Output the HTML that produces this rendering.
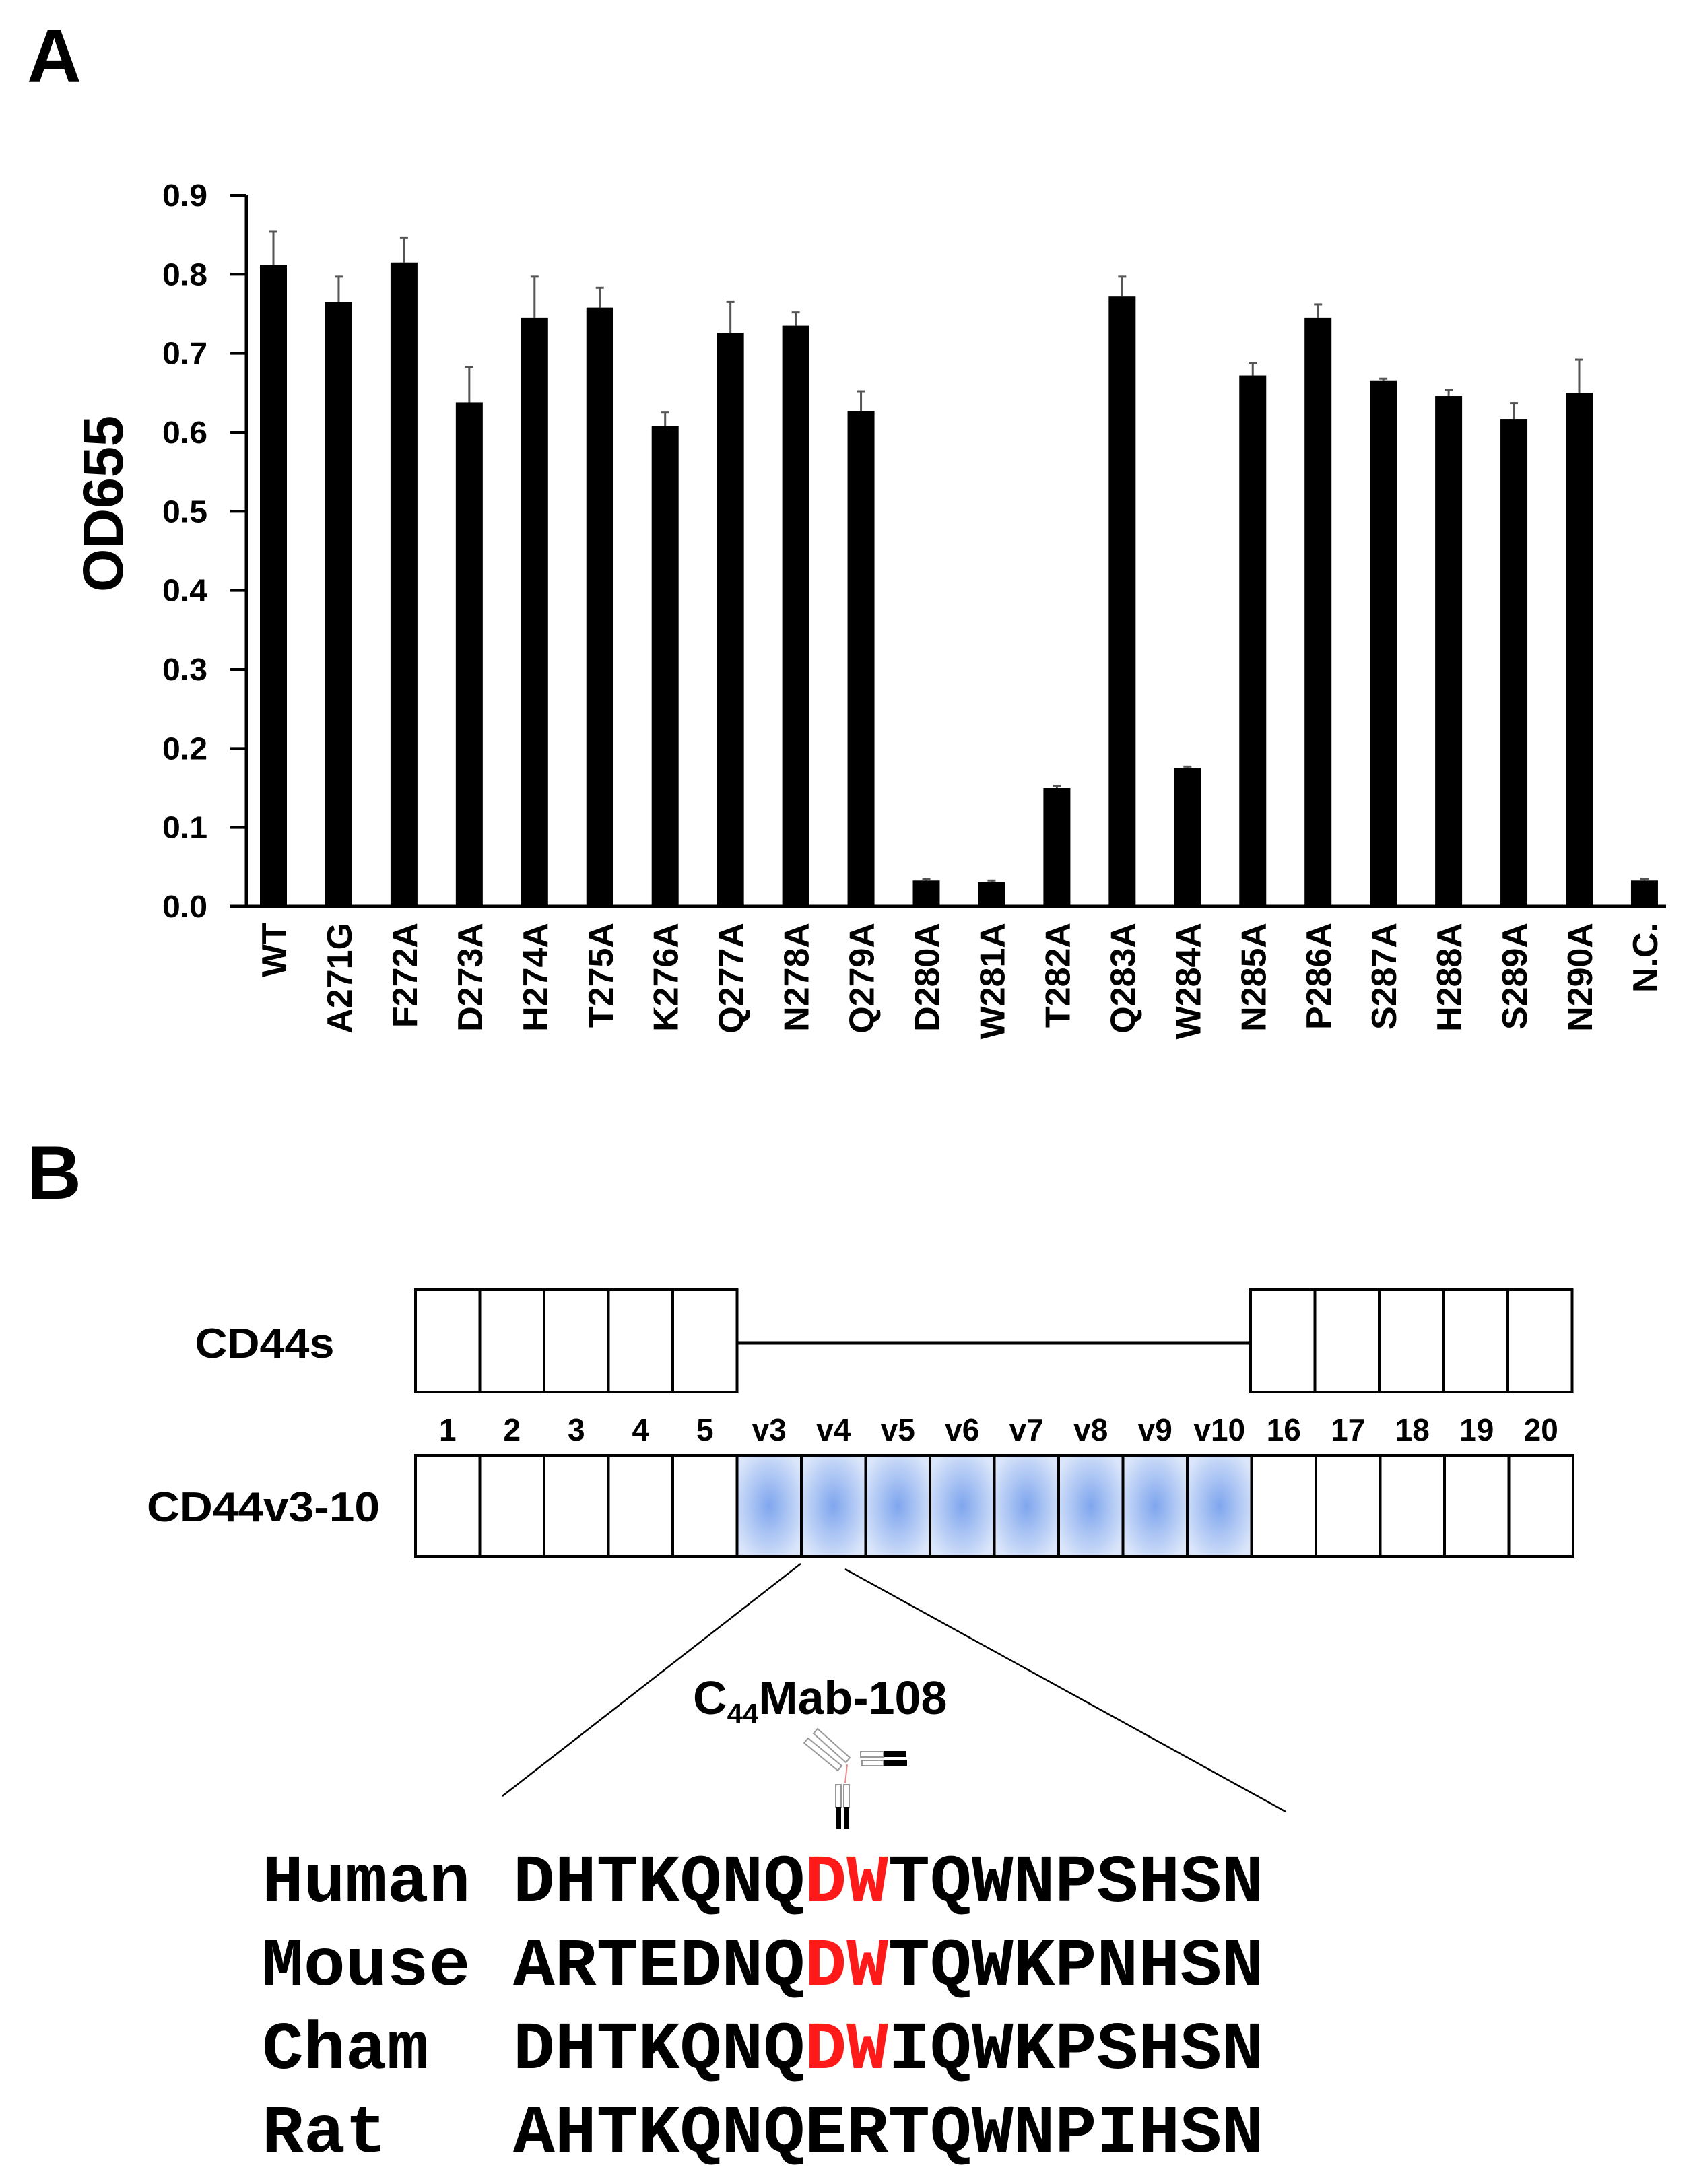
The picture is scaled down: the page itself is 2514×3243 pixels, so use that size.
<!DOCTYPE html>
<html><head><meta charset="utf-8">
<style>
html,body{margin:0;padding:0;background:#fff;}
svg{display:block;}
text{font-family:"Liberation Sans",Arial,sans-serif;font-weight:bold;fill:#000;}
.mono{font-family:"Liberation Mono","Courier New",monospace;font-weight:bold;}
</style></head>
<body>
<svg id="fig" width="2514" height="3243" viewBox="0 0 2514 3243" xmlns="http://www.w3.org/2000/svg">
<defs>
<radialGradient id="blueg" cx="50%" cy="50%" r="60%">
<stop offset="0%" stop-color="#7fa6ee"/>
<stop offset="100%" stop-color="#dbe6fa"/>
</radialGradient>
</defs>
<text x="40" y="122" font-size="112">A</text>
<g id="chart"></g>
<text x="40" y="1780" font-size="112">B</text>
<g id="diagram"></g>
<g id="seqs"></g>
</svg>
<script>
const categories = ["WT","A271G","F272A","D273A","H274A","T275A","K276A","Q277A","N278A","Q279A","D280A","W281A","T282A","Q283A","W284A","N285A","P286A","S287A","H288A","S289A","N290A","N.C."];
const values = [0.812,0.765,0.815,0.638,0.745,0.758,0.608,0.726,0.735,0.627,0.033,0.031,0.150,0.772,0.175,0.672,0.745,0.665,0.646,0.617,0.650,0.033];
const errors = [0.042,0.032,0.031,0.045,0.052,0.025,0.017,0.039,0.017,0.025,0.002,0.002,0.003,0.025,0.002,0.016,0.017,0.003,0.008,0.020,0.042,0.002];
const yTicks = [0.0,0.1,0.2,0.3,0.4,0.5,0.6,0.7,0.8,0.9];
const yTickLabels = ["0.0","0.1","0.2","0.3","0.4","0.5","0.6","0.7","0.8","0.9"];

const NS = "http://www.w3.org/2000/svg";
function mk(tag, attrs, parent){const e=document.createElementNS(NS,tag);for(const k in attrs)e.setAttribute(k,attrs[k]);parent.appendChild(e);return e;}
const chart = document.getElementById('chart');
const y0 = 1346, yTop = 290, vMax = 0.9;
const yScale = v => y0 - (v / vMax) * (y0 - yTop);
const xStart = 406, xStep = 96.95;
const xScale = i => xStart + i * xStep;
const barW = 40;

let ax = mk('line',{x1:366,y1:yTop,x2:366,y2:y0+2,stroke:'#000','stroke-width':5},chart);


let bx = mk('line',{x1:341,y1:y0,x2:2474,y2:y0,stroke:'#000','stroke-width':5},chart);



yTicks.forEach((t,i)=>{
  const y = yScale(t);
  const tk = mk('line',{x1:342,y1:y,x2:366,y2:y,stroke:'#000','stroke-width':4},chart);
  
  
  const lb = mk('text',{x:308,y:y+16,'text-anchor':'end','font-size':46,textLength:67,lengthAdjust:'spacingAndGlyphs'},chart);
  lb.textContent = yTickLabels[i];
  
  
});
const yt = mk('text',{x:0,y:0,'text-anchor':'middle','font-size':84,textLength:262,lengthAdjust:'spacingAndGlyphs',transform:'translate(182,748) rotate(-90)'},chart);
yt.textContent='OD655';



categories.forEach((c,i)=>{
  const cx = xScale(i);
  const top = yScale(values[i]);
  const eTop = yScale(values[i]+errors[i]);
  const el = mk('line',{x1:cx,y1:eTop,x2:cx,y2:top,stroke:'#555','stroke-width':3},chart);
  
  
  const cap = mk('line',{x1:cx-6,y1:eTop,x2:cx+6,y2:eTop,stroke:'#555','stroke-width':3},chart);
  
  
  const r = mk('rect',{x:cx-barW/2,y:top,width:barW,height:y0-top,fill:'#000'},chart);
  
  
  const t = mk('text',{x:0,y:0,'text-anchor':'end','font-size':52,transform:`translate(${cx+19},1370) rotate(-90)`},chart);
  t.textContent = c;
  
  
});

const dg = document.getElementById('diagram');
const bw = 95.5;
function box(x,y,w,h,fill,name){const r=mk('rect',{x:x,y:y,width:w,height:h,fill:fill,stroke:'#000','stroke-width':4},dg);return r;}
for(let i=0;i<5;i++) box(617+i*bw,1915,bw,152,'#fff','cd44s-exon');
for(let i=0;i<5;i++) box(1857+i*bw,1915,bw,152,'#fff','cd44s-exon');
let ln = mk('line',{x1:1095,y1:1994,x2:1857,y2:1994,stroke:'#000','stroke-width':5},dg);


const exonLabels=["1","2","3","4","5","v3","v4","v5","v6","v7","v8","v9","v10","16","17","18","19","20"];
exonLabels.forEach((l,i)=>{
  const variant = l.startsWith('v');
  box(617+i*bw,2161,bw,150,variant?'url(#blueg)':'#fff',variant?'variant-exon':'cd44v-exon');
  const t=mk('text',{x:617+i*bw+bw/2,y:2139,'text-anchor':'middle','font-size':46},dg);
  t.textContent=l;
  
  
});
let t1=mk('text',{x:393,y:2016,'text-anchor':'middle','font-size':62,textLength:207,lengthAdjust:'spacingAndGlyphs'},dg);t1.textContent='CD44s';


let t2=mk('text',{x:391,y:2259,'text-anchor':'middle','font-size':62,textLength:346,lengthAdjust:'spacingAndGlyphs'},dg);t2.textContent='CD44v3-10';


let z1=mk('line',{x1:1189,y1:2322,x2:746,y2:2667,stroke:'#000','stroke-width':2.5},dg);


let z2=mk('line',{x1:1255,y1:2330,x2:1909,y2:2690,stroke:'#000','stroke-width':2.5},dg);


let ab=mk('text',{x:1029,y:2545,'font-size':70},dg);
ab.innerHTML='C<tspan font-size="42" dy="14">44</tspan><tspan dy="-14">Mab-108</tspan>';


const ic = mk('g',{},dg);


mk('path',{d:'M1214 2567 L1262 2610 L1256 2617 L1208 2574 Z M1200 2581 L1250 2622 L1244 2629 L1194 2588 Z',fill:'#fff',stroke:'#999','stroke-width':2},ic);
mk('rect',{x:1278,y:2601,width:34,height:8,fill:'#fff',stroke:'#999','stroke-width':2},ic);
mk('rect',{x:1312,y:2600,width:33,height:9,fill:'#000'},ic);
mk('rect',{x:1280,y:2614,width:32,height:8,fill:'#fff',stroke:'#999','stroke-width':2},ic);
mk('rect',{x:1312,y:2613,width:35,height:9,fill:'#000'},ic);
mk('line',{x1:1258,y1:2620,x2:1255,y2:2648,stroke:'#e88','stroke-width':2},ic);
mk('rect',{x:1241,y:2650,width:8,height:34,fill:'#fff',stroke:'#999','stroke-width':2},ic);
mk('rect',{x:1253,y:2650,width:8,height:34,fill:'#fff',stroke:'#999','stroke-width':2},ic);
mk('rect',{x:1242,y:2683,width:7,height:33,fill:'#000'},ic);
mk('rect',{x:1254,y:2683,width:7,height:33,fill:'#000'},ic);

const species=["Human","Mouse","Cham","Rat"];
const seqs=["DHTKQNQDWTQWNPSHSN","ARTEDNQDWTQWKPNHSN","DHTKQNQDWIQWKPSHSN","AHTKQNQERTQWNPIHSN"];
const redIdx=[[7,8],[7,8],[7,8],[]];
const sg=document.getElementById('seqs');
species.forEach((s,r)=>{
  const y=2823+r*124;
  const n=mk('text',{x:389,y:y,'font-size':100,class:'mono',textLength:s.length*61.9,lengthAdjust:'spacingAndGlyphs'},sg);
  n.textContent=s;
  
  
  const q=mk('text',{x:762,y:y,'font-size':100,class:'mono',textLength:1114,lengthAdjust:'spacingAndGlyphs'},sg);
  
  
  seqs[r].split('').forEach((ch,i)=>{
    const ts=mk('tspan',{},q);
    if(redIdx[r].includes(i)) ts.setAttribute('fill','#ff1a1a');
    ts.textContent=ch;
  });
});
</script>
</body></html>
